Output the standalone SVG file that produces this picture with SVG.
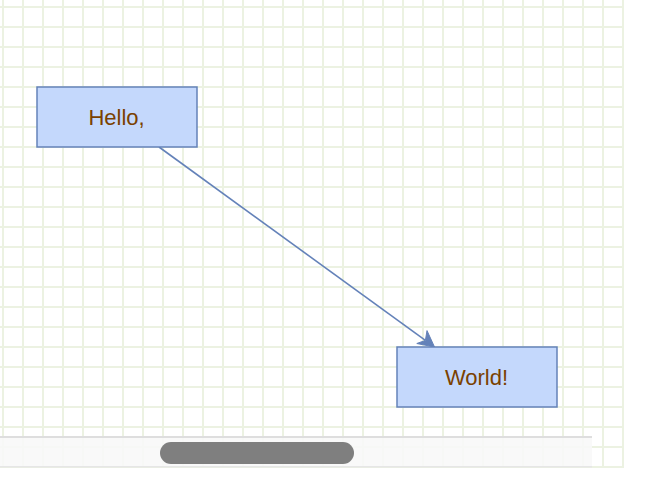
<svg xmlns="http://www.w3.org/2000/svg" width="646" height="496" viewBox="0 0 646 496">
<defs>
<pattern id="grid" patternUnits="userSpaceOnUse" x="2" y="6" width="20" height="20">
<rect x="0" y="0" width="2" height="20" fill="#ecf2e2"/>
<rect x="0" y="0" width="20" height="2" fill="#ecf2e2"/>
</pattern>
</defs>
<style>
.node rect{fill:#c4d8fc;stroke:#6482b9;stroke-width:1.5}
.node text{font-family:"Liberation Sans",Arial,sans-serif;font-size:22px;fill:#7a4100;text-anchor:middle}
.edge{stroke:#6482b9;stroke-width:1.6;fill:none}
.head{fill:#6482b9;stroke:#6482b9;stroke-width:1}
</style>
<rect x="0" y="0" width="646" height="496" fill="#ffffff"/>
<rect x="0" y="0" width="624" height="468" fill="url(#grid)"/>
<g id="connectors">
<path class="edge" d="M159,147 L425.4,340.4"/>
<path class="head" d="M434.5,347 L416.8,343.5 L425.4,340.4 L427,330.6 Z"/>
</g>
<g id="node-hello" class="node">
<rect x="37" y="87" width="160" height="60"/>
<text x="116.5" y="125">Hello,</text>
</g>
<g id="node-world" class="node">
<rect x="397" y="347" width="160" height="60"/>
<text x="476.5" y="385">World!</text>
</g>
<g id="scrollbar">
<rect x="0" y="437" width="592" height="30" fill="#f8f8f8" fill-opacity="0.88"/>
<rect x="0" y="436" width="592" height="2" fill="#dedede"/>
<rect x="0" y="466" width="592" height="1.5" fill="#e6e6e6"/>
<rect x="160" y="442" width="194" height="22" rx="11" ry="11" fill="#7f7f7f"/>
</g>
</svg>
